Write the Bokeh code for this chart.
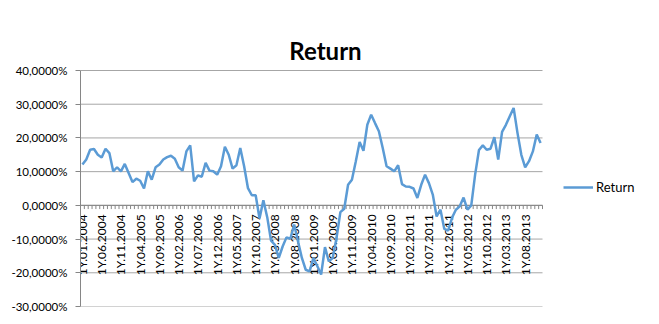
import numpy as np
from bokeh.plotting import figure
from bokeh.models import FixedTicker, Legend, LegendItem, ColumnDataSource, Range1d, Label
from bokeh.embed import file_html
from bokeh.resources import INLINE
from bokeh.core.properties import value

# monthly categories 01.2004 .. 12.2013
months = [f"1Y.{m:02d}.{y}" for y in range(2004, 2014) for m in range(1, 13)]

returns = [
    12.1, 13.6, 16.5, 16.7, 15.0, 14.2, 16.8, 15.5, 10.1, 11.3,
    10.1, 12.3, 9.6, 6.9, 7.9, 7.3, 5.0, 10.1, 7.6, 11.3,
    12.1, 13.6, 14.3, 14.7, 13.8, 11.3, 10.3, 16.0, 17.8, 7.1,
    8.9, 8.5, 12.6, 10.3, 10.1, 9.1, 11.6, 17.4, 15.0, 10.9,
    11.9, 17.0, 11.6, 5.1, 3.0, 3.0, -3.9, 1.5, -3.5, -10.5,
    -11.7, -15.6, -12.2, -9.5, -9.9, -5.7, -10.7, -15.6, -19.1, -19.6,
    -15.6, -18.0, -20.5, -12.4, -16.6, -15.6, -9.7, -2.0, -1.0, 6.1,
    7.6, 13.0, 18.8, 16.2, 23.9, 26.9, 24.4, 22.0, 17.0, 11.6,
    10.9, 10.1, 11.9, 6.3, 5.6, 5.5, 5.0, 2.2, 6.1, 9.1,
    6.6, 3.2, -3.3, -1.3, -7.0, -7.5, -3.7, -1.3, -0.3, 2.3,
    -1.3, 0.0, 9.1, 16.4, 17.8, 16.5, 16.8, 20.2, 13.6, 21.8,
    23.9, 26.4, 28.9, 21.5, 15.0, 11.3, 13.1, 16.0, 21.0, 18.5,
]

y_ticks = [-30, -20, -10, 0, 10, 20, 30, 40]
y_tick_labels = ["-30,0000%", "-20,0000%", "-10,0000%", "0,0000%",
                 "10,0000%", "20,0000%", "30,0000%", "40,0000%"]
label_step = 5
title_text = "Return"

n = len(returns)
xs = list(range(n))

# layout in pixels
W, H = 659, 324
left, bottom = 80, 18
plot_w, plot_top = 462, 70          # category area width, pixel row of the top gridline
frame_w, frame_h = W - left, H - bottom
y_lo, y_hi = y_ticks[0], y_ticks[-1]
px_per_unit = (frame_h - plot_top) / (y_hi - y_lo)
x_px = plot_w / n

x_end = -0.5 + frame_w / x_px
y_end = y_lo + frame_h / px_per_unit

p = figure(width=W, height=H, output_backend="svg", toolbar_location=None,
           x_range=Range1d(-0.5, x_end), y_range=Range1d(y_lo, y_end),
           x_axis_location=None,
           min_border_left=left, min_border_right=0, min_border_top=0, min_border_bottom=bottom)
p.outline_line_color = None
p.background_fill_color = "white"
p.border_fill_color = "white"

# y axis (line limited to the value range)
p.yaxis.bounds = (y_lo, y_hi)
p.yaxis.ticker = FixedTicker(ticks=y_ticks)
p.yaxis.major_label_overrides = {t: l for t, l in zip(y_ticks, y_tick_labels)}
p.yaxis.minor_tick_line_color = None
p.yaxis.major_tick_out = 5
p.yaxis.major_tick_in = 0
p.yaxis.axis_line_color = "#868686"
p.yaxis.major_tick_line_color = "#868686"
p.yaxis.major_label_text_font = "Lato"
p.yaxis.major_label_text_font_size = "11.5px"
p.yaxis.major_label_text_color = "black"
p.yaxis.major_label_standoff = 8

# horizontal gridlines only across the category area
p.grid.visible = False
p.segment(x0=[-0.5] * len(y_ticks), y0=y_ticks, x1=[n - 0.5] * len(y_ticks), y1=y_ticks,
          line_color="#a6a6a6", line_width=1)

# category labels hanging from the zero line
lab_idx = xs[::label_step]
lab_src = ColumnDataSource(dict(x=lab_idx, y=[0] * len(lab_idx),
                                text=[months[i] for i in lab_idx]))
p.text(x="x", y="y", text="text", source=lab_src, angle=np.pi / 2,
       text_align="right", text_baseline="middle", y_offset=9,
       text_font=value("Lato"), text_font_size="12px", text_color="black")

# zero axis line with category tick marks
p.segment(x0=[-0.5], y0=[0], x1=[n - 0.5], y1=[0], line_color="#868686", line_width=1)
tick_x = [i - 0.5 for i in range(n + 1)]
p.segment(x0=tick_x, y0=[0] * len(tick_x), x1=tick_x, y1=[-1.1] * len(tick_x),
          line_color="#868686", line_width=1)

r = p.line(xs, returns, line_color="#5B9BD5", line_width=2.5)

# chart title, centred over the chart at pixel column 325, baseline at pixel row 50
title = Label(x=(325 - left) / x_px - 0.5, y=y_hi + (plot_top - 50) / px_per_unit,
              text=title_text, text_align="center", text_baseline="alphabetic",
              text_font="Lato", text_font_style="bold", text_font_size="24px",
              text_color="black")
p.add_layout(title)

legend = Legend(items=[LegendItem(label=title_text, renderers=[r])], location=(483, 109))
legend.border_line_color = None
legend.background_fill_alpha = 0
legend.label_text_font = "Lato"
legend.label_text_font_size = "13px"
legend.label_text_color = "black"
legend.glyph_width = 30
legend.label_standoff = 3
legend.padding = 2
legend.margin = 0
p.add_layout(legend, "center")

open("out.html", "w").write(file_html(p, INLINE))
